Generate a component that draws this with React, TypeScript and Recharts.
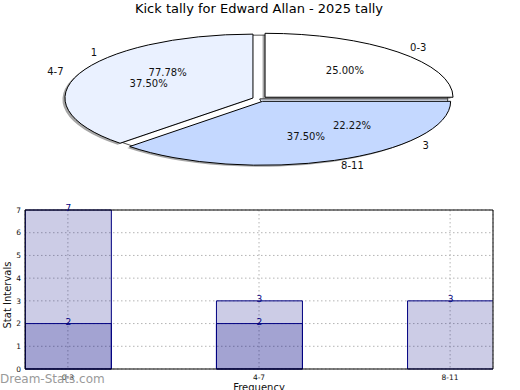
import React from 'react';
import { PieChart, Pie, BarChart, Bar, XAxis, YAxis, CartesianGrid, LabelList } from 'recharts';

// ---------- data ----------
const pieCategories = ['0-3', '4-7', '8-11'];
const pieValues = [2, 3, 3];
const pieColors = ['#ffffff', '#eaf1ff', '#c4d8ff'];

const innerNames = ['1', '3'];
const innerValues = [7, 2];
const innerColors = ['#ffffff', '#eaf1ff'];

const barCategories = ['0-3', '4-7', '8-11'];
const backValues = [7, 3, 3];
const frontValues = [2, 2, 0];
const yTicks = [0, 1, 2, 3, 4, 5, 6, 7];
const xTicks = [0, 1, 2];

const titleText = 'Kick tally for Edward Allan - 2025 tally';

// ---------- helpers ----------
const RAD = Math.PI / 180;
const K = 0.34;
const EXPLODE = 7.4;
const FONT = 'DejaVu Sans, sans-serif';

function ellipsePath(cx: number, cy: number, r: number, start: number, end: number) {
  const rx = r;
  const ry = r * K;
  const x1 = cx + rx * Math.cos(start * RAD);
  const y1 = cy - ry * Math.sin(start * RAD);
  const x2 = cx + rx * Math.cos(end * RAD);
  const y2 = cy - ry * Math.sin(end * RAD);
  const large = Math.abs(end - start) > 180 ? 1 : 0;
  return `M${cx},${cy} L${x1},${y1} A${rx},${ry} 0 ${large} 0 ${x2},${y2} Z`;
}

const makeSector =
  (opts: { explode: number; dx: number; dy: number; colors: string[]; opacity: number; stroke: string; strokeWidth: number }) =>
  (props: any) => {
    const { cx, cy, outerRadius, startAngle, endAngle, index } = props;
    const mid = (startAngle + endAngle) / 2;
    const ox = cx + opts.explode * Math.cos(mid * RAD) + opts.dx;
    const oy = cy - opts.explode * K * Math.sin(mid * RAD) + opts.dy;
    return (
      <path
        d={ellipsePath(ox, oy, outerRadius, startAngle, endAngle)}
        fill={opts.colors[index % opts.colors.length]}
        fillOpacity={opts.opacity}
        stroke={opts.stroke}
        strokeWidth={opts.strokeWidth}
        strokeLinejoin="round"
      />
    );
  };

const emptyShape = () => <g />;

const pieLabel = (names: string[]) => (props: any) => {
  const { cx, cy, midAngle, outerRadius, percent, index } = props;
  const c = Math.cos(midAngle * RAD);
  const s = Math.sin(midAngle * RAD);
  const ox = cx + 1.13 * outerRadius * c;
  const oy = cy - 1.13 * outerRadius * K * s;
  const ix = cx + 0.64 * outerRadius * c;
  const iy = cy - 0.64 * outerRadius * K * s;
  return (
    <g>
      <text x={ox} y={oy} textAnchor={c >= 0 ? 'start' : 'end'} dominantBaseline="central" fontSize={10} fontFamily={FONT} fill="#111">
        {names[index]}
      </text>
      <text x={ix} y={iy} textAnchor="middle" dominantBaseline="central" fontSize={10} fontFamily={FONT} fill="#111">
        {(percent * 100).toFixed(2)}%
      </text>
    </g>
  );
};

const pieData = pieCategories.map((name, i) => ({ name, value: pieValues[i] }));
const innerData = innerNames.map((name, i) => ({ name, value: innerValues[i] }));
const barData = barCategories.map((cat, i) => ({ x: i, cat, back: backValues[i], front: frontValues[i] }));

const PCX = 259.8;
const PCY = 99;
const PR = 188;

export default function App() {
  return (
    <div style={{ position: 'absolute', left: 0, top: 0, width: 520, height: 390, background: '#fff', fontFamily: FONT, overflow: 'hidden' }}>
      <div style={{ position: 'absolute', left: 0, top: 0, width: 518, textAlign: 'center', fontSize: 13, lineHeight: '17px', color: '#000' }}>
        {titleText}
      </div>
      <div style={{ position: 'absolute', left: 0, top: 0 }}>
        <PieChart width={520} height={200} margin={{ top: 0, right: 0, bottom: 0, left: 0 }}>
          <Pie
            data={innerData}
            dataKey="value"
            nameKey="name"
            cx={PCX}
            cy={PCY}
            outerRadius={PR}
            startAngle={0}
            endAngle={360}
            isAnimationActive={false}
            labelLine={false}
            shape={makeSector({ explode: 0, dx: 0, dy: 0, colors: innerColors, opacity: 1, stroke: '#222', strokeWidth: 0.8 })}
          />
          <Pie
            data={pieData}
            dataKey="value"
            nameKey="name"
            cx={PCX}
            cy={PCY}
            outerRadius={PR}
            startAngle={0}
            endAngle={360}
            isAnimationActive={false}
            labelLine={false}
            shape={makeSector({ explode: EXPLODE, dx: -2.5, dy: 1.5, colors: ['#4d4d4d'], opacity: 0.5, stroke: 'none', strokeWidth: 0 })}
          />
          <Pie
            data={pieData}
            dataKey="value"
            nameKey="name"
            cx={PCX}
            cy={PCY}
            outerRadius={PR}
            startAngle={0}
            endAngle={360}
            isAnimationActive={false}
            labelLine={false}
            label={pieLabel(pieCategories)}
            shape={makeSector({ explode: EXPLODE, dx: 0, dy: 0, colors: pieColors, opacity: 1, stroke: '#000', strokeWidth: 1 })}
          />
          <Pie
            data={innerData}
            dataKey="value"
            nameKey="name"
            cx={PCX}
            cy={PCY}
            outerRadius={PR}
            startAngle={0}
            endAngle={360}
            isAnimationActive={false}
            labelLine={false}
            label={pieLabel(innerNames)}
            shape={emptyShape}
          />
        </PieChart>
      </div>
      <div style={{ position: 'absolute', left: 0, top: 0 }}>
        <BarChart width={520} height={390} data={barData} margin={{ top: 209, right: 26, bottom: 0, left: 0 }}>
          <CartesianGrid xAxisId="b" yAxisId="l" stroke="#b4b4b4" strokeDasharray="1.5 2.5" />
          <XAxis
            xAxisId="b"
            dataKey="x"
            type="number"
            domain={[-0.2245, 2.2245]}
            ticks={xTicks}
            interval={0}
            allowDataOverflow
            tickFormatter={(v: number) => barCategories[v]}
            height={21}
            axisLine={{ stroke: '#000' }}
            tickLine={false}
            tickSize={4}
            tickMargin={2}
            tick={{ fontSize: 7.5, fill: '#111', fontFamily: FONT }}
          />
          <XAxis
            xAxisId="t"
            orientation="top"
            dataKey="x"
            type="number"
            domain={[-0.2245, 2.2245]}
            allowDataOverflow
            height={1}
            tick={false}
            tickLine={false}
            axisLine={{ stroke: '#000' }}
          />
          <YAxis
            yAxisId="l"
            domain={[0, 7]}
            ticks={yTicks}
            interval={0}
            width={25}
            axisLine={{ stroke: '#000' }}
            tickLine={false}
            tickSize={2}
            tickMargin={2}
            tick={{ fontSize: 7.5, fill: '#111', fontFamily: FONT }}
          />
          <YAxis
            yAxisId="r"
            orientation="right"
            domain={[0, 7]}
            width={1}
            tick={false}
            tickLine={false}
            axisLine={{ stroke: '#000' }}
          />
          <Bar xAxisId="b" yAxisId="l" dataKey="back" barSize={86} fill="#000080" fillOpacity={0.2} stroke="#000080" strokeWidth={1} isAnimationActive={false}>
            <LabelList dataKey="back" position="top" offset={-1} fill="#000080" fontSize={9} fontFamily={FONT} formatter={(v: any) => (v ? v : '')} />
          </Bar>
          <Bar xAxisId="t" yAxisId="l" dataKey="front" barSize={86} fill="#000080" fillOpacity={0.2} stroke="#000080" strokeWidth={1} isAnimationActive={false}>
            <LabelList dataKey="front" position="top" offset={-1} fill="#000080" fontSize={9} fontFamily={FONT} formatter={(v: any) => (v ? v : '')} />
          </Bar>
        </BarChart>
      </div>
      <div style={{ position: 'absolute', left: 209, width: 100, top: 382, textAlign: 'center', fontSize: 10, lineHeight: '12px', color: '#111' }}>
        Frequency
      </div>
      <div
        style={{
          position: 'absolute',
          left: 8 - 40,
          top: 295 - 6,
          width: 80,
          textAlign: 'center',
          fontSize: 10,
          lineHeight: '12px',
          color: '#111',
          transform: 'rotate(-90deg)',
          transformOrigin: '40px 6px',
        }}
      >
        Stat Intervals
      </div>
      <div style={{ position: 'absolute', left: 0, top: 372, fontSize: 12, lineHeight: '14px', color: '#9a9a9a' }}>Dream-Stats.com</div>
    </div>
  );
}
